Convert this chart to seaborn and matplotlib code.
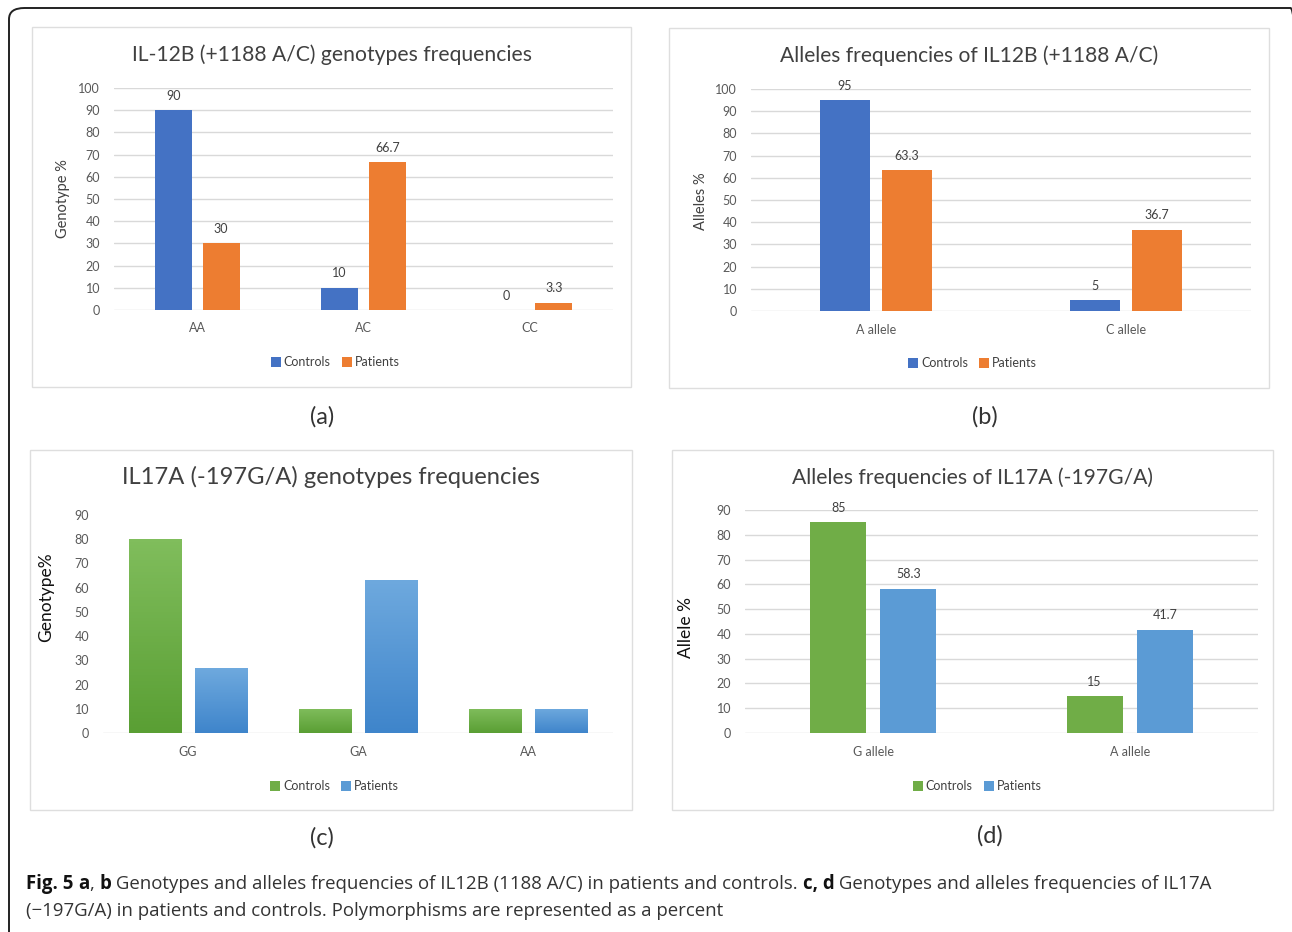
import matplotlib
matplotlib.use("Agg")
import matplotlib.pyplot as plt
from matplotlib.patches import Rectangle, FancyBboxPatch
from matplotlib.lines import Line2D
import numpy as np
import pandas as pd
import seaborn as sns

# ---- data ----
groups = ["Controls", "Patients"]

genotypes_12b = ["AA", "AC", "CC"]
controls_12b_geno = [90, 10, 0]
patients_12b_geno = [30, 66.7, 3.3]

alleles_12b = ["A allele", "C allele"]
controls_12b_allele = [95, 5]
patients_12b_allele = [63.3, 36.7]

genotypes_17a = ["GG", "GA", "AA"]
controls_17a_geno = [80, 10, 10]
patients_17a_geno = [26.7, 63.3, 10]

alleles_17a = ["G allele", "A allele"]
controls_17a_allele = [85, 15]
patients_17a_allele = [58.3, 41.7]

titles = [
    "IL-12B (+1188 A/C) genotypes frequencies",
    "Alleles frequencies of IL12B (+1188 A/C)",
    "IL17A (-197G/A) genotypes frequencies",
    "Alleles frequencies of IL17A (-197G/A)",
]
ylabels = ["Genotype %", "Alleles %", "Genotype%", "Allele %"]
panel_tags = ["(a)", "(b)", "(c)", "(d)"]

# ---- style ----
W, H = 1292, 932
sns.set_theme(style="white")
plt.rcParams["font.family"] = ["Lato", "DejaVu Sans"]
TICK = "#595959"
GRID = "#d9d9d9"

BLUE, ORANGE = "#4472C4", "#ED7D31"
GREEN, LBLUE = "#70AD47", "#5B9BD5"

fig = plt.figure(figsize=(W / 100, H / 100), dpi=100)
renderer = fig.canvas.get_renderer()


def fx(x):
    return x / W


def fy(y):
    return 1 - y / H


def fit_text(t, target_px):
    w = t.get_window_extent(renderer).width
    t.set_fontsize(t.get_fontsize() * target_px / w)


# outer rounded frame (runs off the right and bottom edges)
frame = FancyBboxPatch((fx(9), fy(945)), fx(1306) - fx(9), fy(8) - fy(945),
                       boxstyle="round,pad=0,rounding_size=0.012",
                       transform=fig.transFigure, fill=False,
                       edgecolor="#222222", linewidth=1.4, clip_on=False)
fig.patches.append(frame)

# panel layout in pixels
panels = [
    dict(box=(32, 27, 631, 387), ax=(114, 88, 613, 310), title_y=55, title_w=400,
         ylab=(63, 199, 10.5), leg=(336, 362), tag=(322, 417)),
    dict(box=(669, 28, 1269, 388), ax=(751, 89, 1251, 311), title_y=56, title_w=380,
         ylab=(701, 201, 10.5), leg=(973, 363), tag=(985, 417)),
    dict(box=(30, 450, 632, 810), ax=(103, 515, 613, 733), title_y=477, title_w=420,
         ylab=(46, 597, 12.5), leg=(335, 786), tag=(322, 838)),
    dict(box=(672, 450, 1273, 810), ax=(745, 510, 1258, 733), title_y=478, title_w=362,
         ylab=(686, 627, 12.5), leg=(978, 786), tag=(990, 836)),
]

datasets = [
    (genotypes_12b, controls_12b_geno, patients_12b_geno, (BLUE, ORANGE), 100, 0.578, 0.23, True, True),
    (alleles_12b, controls_12b_allele, patients_12b_allele, (BLUE, ORANGE), 100, 0.496, 0.19, True, True),
    (genotypes_17a, controls_17a_geno, patients_17a_geno, (GREEN, LBLUE), 90, 0.765, 0.2, False, False),
    (alleles_17a, controls_17a_allele, patients_17a_allele, (GREEN, LBLUE), 90, 0.547, 0.2, True, True),
]

gradients = {
    GREEN: ("#80bd5c", "#5a9f34"),
    LBLUE: ("#6ea9de", "#3f85cb"),
}

for i, (p, d) in enumerate(zip(panels, datasets)):
    cats, ctrl, pat, cols, ymax, width, gap, grid, labels = d
    bx0, by0, bx1, by1 = p["box"]
    fig.patches.append(Rectangle((fx(bx0), fy(by1)), fx(bx1) - fx(bx0), fy(by0) - fy(by1),
                                 transform=fig.transFigure, fill=False,
                                 edgecolor="#dedede", linewidth=1.0))

    l, t, r, b = p["ax"]
    ax = fig.add_axes([fx(l), fy(b), fx(r) - fx(l), fy(t) - fy(b)])
    df = pd.DataFrame({
        "category": cats * 2,
        "group": ["Controls"] * len(cats) + ["Patients"] * len(cats),
        "value": list(ctrl) + list(pat),
    })
    sns.barplot(data=df, x="category", y="value", hue="group", hue_order=groups,
                order=cats, palette=dict(zip(groups, cols)), saturation=1,
                width=width, gap=gap, errorbar=None, legend=False, ax=ax,
                linewidth=0)
    ax.set_xlim(-0.5, len(cats) - 0.5)
    ax.set_ylim(0, ymax)
    ax.set_yticks(np.arange(0, ymax + 1, 10))
    for s in ax.spines.values():
        s.set_visible(False)
    ax.set_xlabel("")
    ax.set_ylabel("")
    ax.tick_params(axis="both", length=0, labelsize=9, colors=TICK)
    ax.tick_params(axis="y", pad=10)
    ax.tick_params(axis="x", pad=9)
    if grid:
        ax.yaxis.grid(True, color=GRID, linewidth=1)
    else:
        ax.axhline(0, color=GRID, linewidth=1, zorder=0)
    ax.set_axisbelow(True)

    if labels:
        for cont in ax.containers:
            ax.bar_label(cont, fmt="%g", padding=6, fontsize=9, color="#404040")
    else:
        # soft vertical shading on the bars
        for cont, col in zip(ax.containers, cols):
            top, bot = gradients[col]
            cmap = matplotlib.colors.LinearSegmentedColormap.from_list("g", [bot, top])
            for patch in cont.patches:
                x0, y0 = patch.get_x(), patch.get_y()
                w, h = patch.get_width(), patch.get_height()
                grad = np.linspace(0, 1, 64).reshape(-1, 1)
                im = ax.imshow(grad, extent=[x0, x0 + w, y0, y0 + h], origin="lower",
                               cmap=cmap, aspect="auto", zorder=patch.get_zorder() + 0.1)
                im.set_clip_path(patch)
        ax.set_xlim(-0.5, len(cats) - 0.5)
        ax.set_ylim(0, ymax)

    # title
    tt = fig.text(fx((bx0 + bx1) / 2), fy(p["title_y"]), titles[i], ha="center", va="center",
                  fontsize=14, color="#404040")
    fit_text(tt, p["title_w"])

    # y label
    yx, yy, ys = p["ylab"]
    fig.text(fx(yx), fy(yy), ylabels[i], rotation=90, ha="center", va="center",
             fontsize=ys, color="#404040" if ys < 12 else "#111111")

    # legend
    handles = [Line2D([], [], marker="s", linestyle="none", markersize=6.5,
                      markerfacecolor=c, markeredgewidth=0) for c in cols]
    fig.legend(handles, groups, loc="center", bbox_to_anchor=(fx(p["leg"][0]), fy(p["leg"][1])),
               ncol=2, frameon=False, fontsize=9, handlelength=0.6, handletextpad=0.3,
               columnspacing=1.0, labelcolor="#404040")

    # panel tag
    fig.text(fx(p["tag"][0]), fy(p["tag"][1]), panel_tags[i], ha="center", va="center",
             fontsize=17, color="#333333")

# ---- caption ----
cap_family = ["Liberation Sans Narrow", "Open Sans", "DejaVu Sans"]
line1 = [("Fig. 5 ", "bold"), ("a", "bold"), (", ", "normal"), ("b", "bold"),
         (" Genotypes and alleles frequencies of IL12B (1188 A/C) in patients and controls. ", "normal"),
         ("c, d", "bold"),
         (" Genotypes and alleles frequencies of IL17A", "normal")]
line2 = [("(\u2212197G/A) in patients and controls. Polymorphisms are represented as a percent", "normal")]


def run_width(runs, size):
    total = 0
    for txt, wt in runs:
        t = fig.text(0, 0, txt, fontsize=size, fontweight=wt, family=cap_family)
        total += t.get_window_extent(renderer).width
        t.remove()
    return total


base = 12
cap_size = base * (1184 / run_width(line1, base))


def draw_runs(runs, x, y, size):
    for txt, wt in runs:
        t = fig.text(fx(x), fy(y), txt, fontsize=size, fontweight=wt, family=cap_family,
                     ha="left", va="center", color="#111111" if wt == "bold" else "#333333")
        x += t.get_window_extent(renderer).width


draw_runs(line1, 26, 884, cap_size)
draw_runs(line2, 26, 911, cap_size)

fig.savefig("out.png", dpi=100)
